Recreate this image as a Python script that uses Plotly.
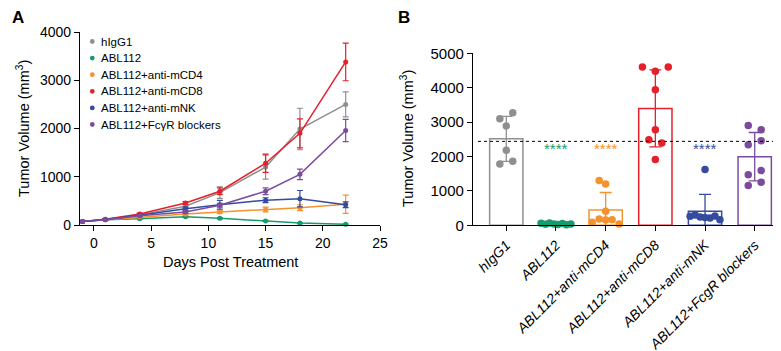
import numpy as np
import plotly.graph_objects as go

W, H = 781, 351
FONT = "Liberation Sans, Arial, sans-serif"

# ---------------- Panel A data ----------------
days = [-1, 1, 4, 8, 11, 15, 18, 22]
series_names = ["hIgG1", "ABL112", "ABL112+anti-mCD4", "ABL112+anti-mCD8",
                "ABL112+anti-mNK", "ABL112+FcγR blockers"]
hIgG1_mean = [75, 115, 210, 390, 670, 1200, 1990, 2500]
hIgG1_sem = [0, 10, 20, 40, 120, 250, 430, 260]
abl112_mean = [75, 110, 130, 172, 140, 85, 40, 15]
abl112_sem = [0, 5, 10, 15, 12, 10, 10, 5]
cd4_mean = [75, 110, 170, 227, 268, 320, 360, 430]
cd4_sem = [0, 10, 15, 20, 30, 50, 60, 190]
cd8_mean = [75, 120, 228, 455, 700, 1280, 1900, 3380]
cd8_sem = [0, 10, 20, 30, 70, 190, 300, 390]
nk_mean = [75, 115, 200, 337, 420, 515, 545, 420]
nk_sem = [0, 10, 20, 40, 90, 50, 170, 60]
fcgr_mean = [75, 110, 190, 268, 410, 700, 1050, 1960]
fcgr_sem = [0, 10, 15, 25, 40, 70, 110, 230]

# ---------------- Panel B data ----------------
categories_b = ["hIgG1", "ABL112", "ABL112+anti-mCD4", "ABL112+anti-mCD8",
                "ABL112+anti-mNK", "ABL112+FcgR blockers"]
pts_hIgG1 = [3270, 3100, 2890, 2180, 1860, 1780]
pts_abl112 = [60, 30, 70, 40, 20, 50, 15, 35]
pts_cd4 = [1300, 1200, 410, 183, 154, 163, 87, 38]
pts_cd8 = [4600, 4600, 4480, 3940, 2780, 2490, 2390, 1910]
pts_nk = [1620, 260, 300, 240, 230, 210, 270, 160]
pts_fcgr = [2900, 2780, 2460, 2340, 1590, 1470, 1250, 1160]
ref_line_value = 2440
star_text = "****"
star_value = 2230
star_groups = [1, 2, 4]

# ---------------- styles / layout helpers ----------------
colors = ["#8f8f8f", "#169b6e", "#f5922f", "#e5202b", "#344b9f", "#7d4b9e"]
jitter = [
    [0.13, -0.13, 0, 0, 0.13, -0.13],
    [-0.30, -0.21, -0.13, -0.04, 0.04, 0.13, 0.21, 0.30],
    [-0.13, 0, 0, -0.13, 0, 0.13, -0.27, 0.27],
    [-0.26, 0.26, 0, 0, 0, -0.13, 0.13, 0],
    [0, -0.30, -0.2, -0.1, 0, 0.1, 0.2, 0.30],
    [-0.13, 0.13, 0.13, -0.13, 0.13, -0.13, 0.13, -0.13],
]

def px_x(p):
    return p / W

def px_y(p):
    return 1 - p / H

means_a = [hIgG1_mean, abl112_mean, cd4_mean, cd8_mean, nk_mean, fcgr_mean]
sems_a = [hIgG1_sem, abl112_sem, cd4_sem, cd8_sem, nk_sem, fcgr_sem]
pts_b = [pts_hIgG1, pts_abl112, pts_cd4, pts_cd8, pts_nk, pts_fcgr]

fig = go.Figure()

# Panel A lines
for name, m, s, c in zip(series_names, means_a, sems_a, colors):
    fig.add_trace(go.Scatter(
        x=days, y=m, mode="lines+markers", name=name, showlegend=False,
        line=dict(color=c, width=1.5),
        marker=dict(color=c, size=5),
        error_y=dict(type="data", array=s, color=c, thickness=1.2, width=3),
        xaxis="x", yaxis="y", cliponaxis=False,
    ))

# Panel B bars + points
for i, (pts, c) in enumerate(zip(pts_b, colors)):
    arr = np.array(pts, dtype=float)
    mean = arr.mean()
    sd = arr.std(ddof=1)
    fig.add_trace(go.Bar(
        x=[i], y=[mean], width=0.67, showlegend=False,
        marker=dict(color="rgba(255,255,255,0)", line=dict(color=c, width=1.5)),
        error_y=dict(type="data", array=[sd], color=c, thickness=1.3, width=6),
        xaxis="x2", yaxis="y2",
    ))
for i, (pts, c) in enumerate(zip(pts_b, colors)):
    fig.add_trace(go.Scatter(
        x=[i + o for o in jitter[i]], y=pts, mode="markers", showlegend=False,
        marker=dict(color=c, size=7.5),
        xaxis="x2", yaxis="y2", cliponaxis=False,
    ))

axis_common = dict(showline=True, linecolor="black", linewidth=1.3, ticks="outside",
                   ticklen=5, tickwidth=1.3, tickcolor="black", showgrid=False,
                   zeroline=False, automargin=False,
                   tickfont=dict(family=FONT, size=14, color="black"))

fig.update_layout(
    width=W, height=H, margin=dict(l=0, r=0, t=0, b=0),
    paper_bgcolor="white", plot_bgcolor="white",
    font=dict(family=FONT, color="black"),
    showlegend=False, barmode="overlay",
    xaxis=dict(domain=[px_x(72), px_x(372)], range=[-1.22, 25], dtick=5, tick0=0,
               anchor="y", **axis_common),
    yaxis=dict(domain=[px_y(217), px_y(24)], range=[0, 4000], dtick=1000,
               anchor="x", **axis_common),
    xaxis2=dict(domain=[px_x(465), px_x(780)], range=[-0.67, 5.67],
                tickmode="array", tickvals=list(range(6)),
                ticktext=[f"<i>{c}</i>" for c in categories_b], tickangle=-45,
                anchor="y2", **{**axis_common, "tickfont": dict(family=FONT, size=14, color="black")}),
    yaxis2=dict(domain=[px_y(217.3), px_y(45.3)], range=[0, 5000], dtick=1000,
                anchor="x2", **{**axis_common, "tickfont": dict(family=FONT, size=15, color="black")}),
)

shapes = []
annotations = []

# dotted reference line in B
shapes.append(dict(type="line", xref="x2", yref="y2", x0=-0.57, x1=5.67,
                   y0=ref_line_value, y1=ref_line_value,
                   line=dict(color="black", width=1, dash="dot")))

# stars
for g in star_groups:
    annotations.append(dict(x=g, y=star_value, xref="x2", yref="y2", text=star_text,
                            showarrow=False, font=dict(family=FONT, size=15, color=colors[g]),
                            xanchor="center", yanchor="middle"))

# manual legend for A
for i, (name, c) in enumerate(zip(series_names, colors)):
    yy = 33.5 + i * 16.6
    shapes.append(dict(type="circle", xref="paper", yref="paper",
                       x0=px_x(84.3 - 2.4), x1=px_x(84.3 + 2.4),
                       y0=px_y(yy + 2.4), y1=px_y(yy - 2.4),
                       fillcolor=c, line=dict(width=0)))
    annotations.append(dict(x=px_x(90.5), y=px_y(yy), xref="paper", yref="paper",
                            text=name, showarrow=False, xanchor="left", yanchor="middle",
                            font=dict(family=FONT, size=11.5, color="black")))

# axis titles and panel letters
annotations += [
    dict(x=px_x(15), y=px_y(121), xref="paper", yref="paper", textangle=-90,
         text="Tumor Volume (mm<sup>3</sup>)", showarrow=False,
         font=dict(family=FONT, size=14.5), xanchor="center", yanchor="middle"),
    dict(x=px_x(222), y=px_y(254), xref="paper", yref="paper",
         text="Days Post Treatment", showarrow=False,
         font=dict(family=FONT, size=14.5), xanchor="center", yanchor="middle"),
    dict(x=px_x(399), y=px_y(131), xref="paper", yref="paper", textangle=-90,
         text="Tumor Volume (mm<sup>3</sup>)", showarrow=False,
         font=dict(family=FONT, size=14.5), xanchor="center", yanchor="middle"),
    dict(x=px_x(2), y=px_y(9), xref="paper", yref="paper", text="<b>A</b>",
         showarrow=False, font=dict(family=FONT, size=17), xanchor="left", yanchor="middle"),
    dict(x=px_x(388), y=px_y(9), xref="paper", yref="paper", text="<b>B</b>",
         showarrow=False, font=dict(family=FONT, size=17), xanchor="left", yanchor="middle"),
]

fig.update_layout(shapes=shapes, annotations=annotations)
fig.write_html("out.html")
